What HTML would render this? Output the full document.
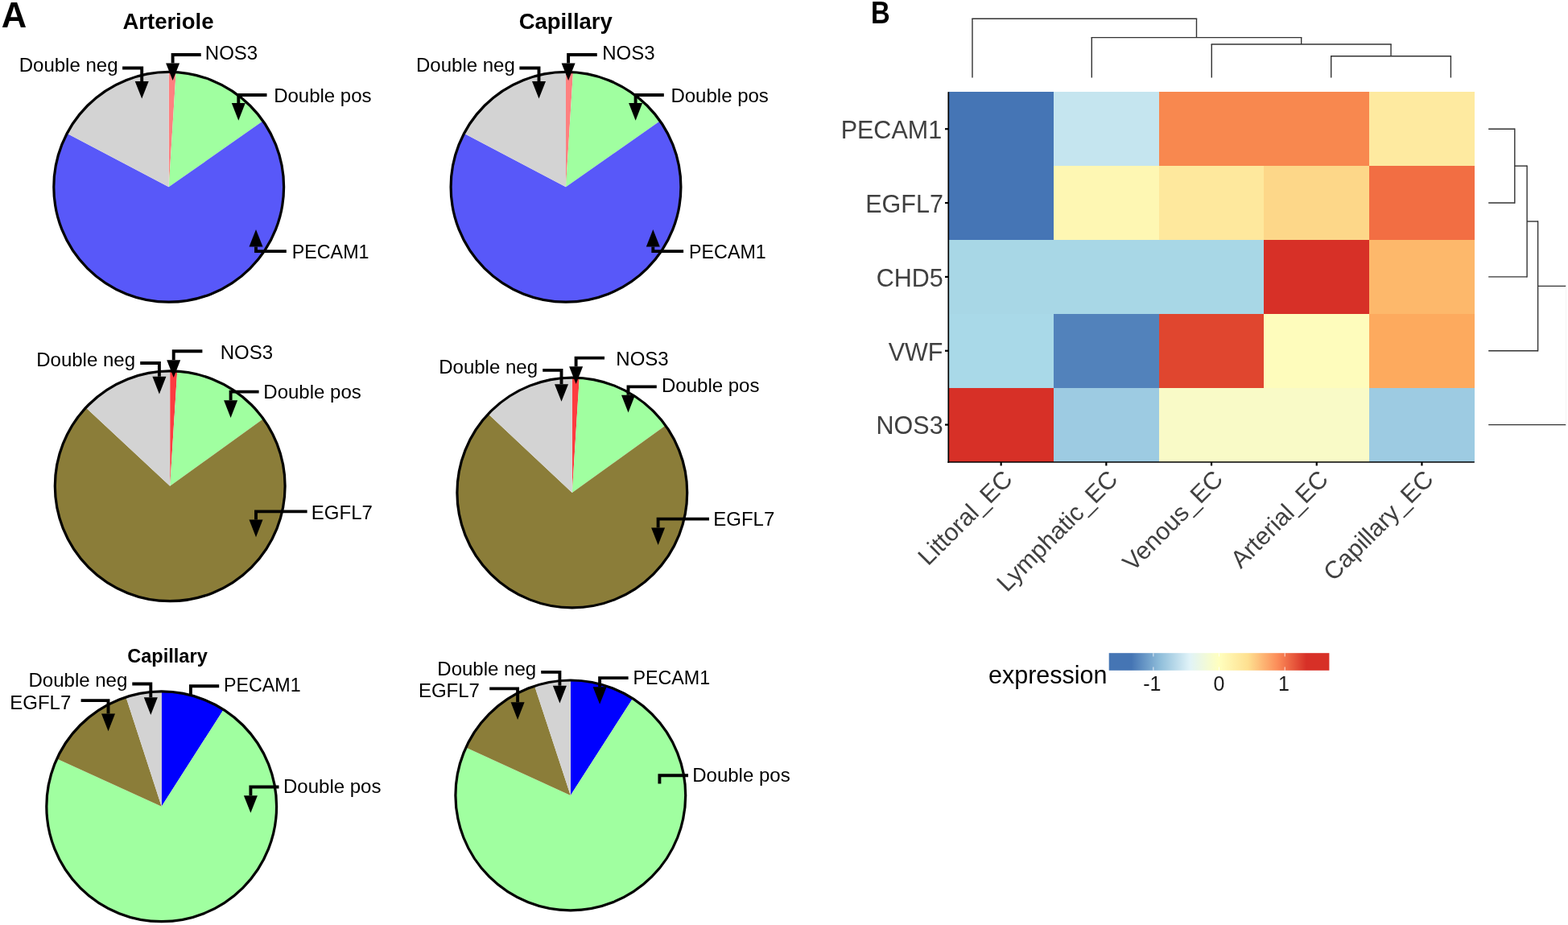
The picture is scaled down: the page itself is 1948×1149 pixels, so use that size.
<!DOCTYPE html>
<html><head><meta charset="utf-8"><style>
html,body{margin:0;padding:0;background:#fff;overflow:hidden;}
svg{display:block;}
text{font-family:'Liberation Sans', Arial, Helvetica, sans-serif;}
</style></head><body>
<svg width="1948" height="1149" viewBox="0 0 1948 1149">
<rect width="1948" height="1149" fill="#fff"/>
<path d="M209.70,232.30 L209.70,89.40 A142.90,142.90 0 0 1 218.67,89.68 Z" fill="#FF8080"/>
<path d="M209.70,232.30 L218.67,89.68 A142.90,142.90 0 0 1 326.76,150.34 Z" fill="#A0FFA0"/>
<path d="M209.70,232.30 L326.76,150.34 A142.90,142.90 0 1 1 83.29,165.65 Z" fill="#5858F9"/>
<path d="M209.70,232.30 L83.29,165.65 A142.90,142.90 0 0 1 209.70,89.40 Z" fill="#D3D3D3"/>
<circle cx="209.70" cy="232.30" r="142.90" fill="none" stroke="#000" stroke-width="3.2"/>
<polyline points="249.70,68.00 214.60,68.00 214.60,78.40" fill="none" stroke="#000" stroke-width="3.9" stroke-linejoin="miter" stroke-linecap="butt"/>
<polygon points="206.10,78.40 223.10,78.40 214.60,100.00" fill="#000"/>
<text x="254.83" y="74.00" font-size="24" fill="#000">NOS3</text>
<polyline points="152.10,84.50 176.20,84.50 176.20,100.90" fill="none" stroke="#000" stroke-width="3.9" stroke-linejoin="miter" stroke-linecap="butt"/>
<polygon points="167.70,100.90 184.70,100.90 176.20,122.50" fill="#000"/>
<text x="23.73" y="89.40" font-size="24" fill="#000">Double neg</text>
<polyline points="331.50,118.00 296.30,118.00 296.30,128.10" fill="none" stroke="#000" stroke-width="3.9" stroke-linejoin="miter" stroke-linecap="butt"/>
<polygon points="287.80,128.10 304.80,128.10 296.30,149.70" fill="#000"/>
<text x="340.13" y="127.00" font-size="24" fill="#000">Double pos</text>
<polyline points="355.80,312.10 318.00,312.10 318.00,306.60" fill="none" stroke="#000" stroke-width="3.9" stroke-linejoin="miter" stroke-linecap="butt"/>
<polygon points="309.50,306.60 326.50,306.60 318.00,285.00" fill="#000"/>
<text x="0" y="0" font-size="24" fill="#000" transform="translate(362.79,320.80) scale(0.97,1)">PECAM1</text>
<path d="M703.00,232.30 L703.00,89.40 A142.90,142.90 0 0 1 711.97,89.68 Z" fill="#FF8080"/>
<path d="M703.00,232.30 L711.97,89.68 A142.90,142.90 0 0 1 820.06,150.34 Z" fill="#A0FFA0"/>
<path d="M703.00,232.30 L820.06,150.34 A142.90,142.90 0 1 1 576.59,165.65 Z" fill="#5858F9"/>
<path d="M703.00,232.30 L576.59,165.65 A142.90,142.90 0 0 1 703.00,89.40 Z" fill="#D3D3D3"/>
<circle cx="703.00" cy="232.30" r="142.90" fill="none" stroke="#000" stroke-width="3.2"/>
<polyline points="741.74,68.00 706.10,68.00 706.10,78.40" fill="none" stroke="#000" stroke-width="3.9" stroke-linejoin="miter" stroke-linecap="butt"/>
<polygon points="697.60,78.40 714.60,78.40 706.10,100.00" fill="#000"/>
<text x="748.13" y="74.00" font-size="24" fill="#000">NOS3</text>
<polyline points="645.40,84.50 669.50,84.50 669.50,100.90" fill="none" stroke="#000" stroke-width="3.9" stroke-linejoin="miter" stroke-linecap="butt"/>
<polygon points="661.00,100.90 678.00,100.90 669.50,122.50" fill="#000"/>
<text x="517.03" y="89.40" font-size="24" fill="#000">Double neg</text>
<polyline points="824.80,118.00 789.60,118.00 789.60,128.10" fill="none" stroke="#000" stroke-width="3.9" stroke-linejoin="miter" stroke-linecap="butt"/>
<polygon points="781.10,128.10 798.10,128.10 789.60,149.70" fill="#000"/>
<text x="833.43" y="127.00" font-size="24" fill="#000">Double pos</text>
<polyline points="849.10,312.10 811.30,312.10 811.30,306.60" fill="none" stroke="#000" stroke-width="3.9" stroke-linejoin="miter" stroke-linecap="butt"/>
<polygon points="802.80,306.60 819.80,306.60 811.30,285.00" fill="#000"/>
<text x="0" y="0" font-size="24" fill="#000" transform="translate(856.09,320.80) scale(0.97,1)">PECAM1</text>
<text x="152.42" y="36.10" font-size="27.5" font-weight="bold" fill="#000">Arteriole</text>
<text x="644.67" y="36.20" font-size="27.5" font-weight="bold" fill="#000">Capillary</text>
<path d="M211.20,603.80 L211.20,460.90 A142.90,142.90 0 0 1 220.17,461.18 Z" fill="#FE3B3F"/>
<path d="M211.20,603.80 L220.17,461.18 A142.90,142.90 0 0 1 327.10,520.21 Z" fill="#A0FFA0"/>
<path d="M211.20,603.80 L327.10,520.21 A142.90,142.90 0 1 1 106.69,506.34 Z" fill="#8B7D39"/>
<path d="M211.20,603.80 L106.69,506.34 A142.90,142.90 0 0 1 211.20,460.90 Z" fill="#D3D3D3"/>
<circle cx="211.20" cy="603.80" r="142.90" fill="none" stroke="#000" stroke-width="3.2"/>
<polyline points="251.40,436.30 215.70,436.30 215.70,447.30" fill="none" stroke="#000" stroke-width="3.9" stroke-linejoin="miter" stroke-linecap="butt"/>
<polygon points="207.20,447.30 224.20,447.30 215.70,468.90" fill="#000"/>
<text x="273.63" y="445.80" font-size="24" fill="#000">NOS3</text>
<polyline points="174.20,451.00 197.90,451.00 197.90,467.80" fill="none" stroke="#000" stroke-width="3.9" stroke-linejoin="miter" stroke-linecap="butt"/>
<polygon points="189.40,467.80 206.40,467.80 197.90,489.40" fill="#000"/>
<text x="45.23" y="455.20" font-size="24" fill="#000">Double neg</text>
<polyline points="321.60,486.60 286.60,486.60 286.60,497.30" fill="none" stroke="#000" stroke-width="3.9" stroke-linejoin="miter" stroke-linecap="butt"/>
<polygon points="278.10,497.30 295.10,497.30 286.60,518.90" fill="#000"/>
<text x="327.33" y="495.30" font-size="24" fill="#000">Double pos</text>
<polyline points="381.60,635.40 318.00,635.40 318.00,645.60" fill="none" stroke="#000" stroke-width="3.9" stroke-linejoin="miter" stroke-linecap="butt"/>
<polygon points="309.50,645.60 326.50,645.60 318.00,667.20" fill="#000"/>
<text x="386.83" y="644.70" font-size="24" fill="#000">EGFL7</text>
<path d="M710.80,612.00 L710.80,469.10 A142.90,142.90 0 0 1 719.77,469.38 Z" fill="#FE3B3F"/>
<path d="M710.80,612.00 L719.77,469.38 A142.90,142.90 0 0 1 826.85,528.61 Z" fill="#A0FFA0"/>
<path d="M710.80,612.00 L826.85,528.61 A142.90,142.90 0 1 1 606.63,514.18 Z" fill="#8B7D39"/>
<path d="M710.80,612.00 L606.63,514.18 A142.90,142.90 0 0 1 710.80,469.10 Z" fill="#D3D3D3"/>
<circle cx="710.80" cy="612.00" r="142.90" fill="none" stroke="#000" stroke-width="3.2"/>
<polyline points="751.00,444.60 715.60,444.60 715.60,455.30" fill="none" stroke="#000" stroke-width="3.9" stroke-linejoin="miter" stroke-linecap="butt"/>
<polygon points="707.10,455.30 724.10,455.30 715.60,476.90" fill="#000"/>
<text x="765.33" y="454.20" font-size="24" fill="#000">NOS3</text>
<polyline points="674.20,459.90 697.50,459.90 697.50,477.20" fill="none" stroke="#000" stroke-width="3.9" stroke-linejoin="miter" stroke-linecap="butt"/>
<polygon points="689.00,477.20 706.00,477.20 697.50,498.80" fill="#000"/>
<text x="545.23" y="463.50" font-size="24" fill="#000">Double neg</text>
<polyline points="815.80,480.40 780.50,480.40 780.50,490.80" fill="none" stroke="#000" stroke-width="3.9" stroke-linejoin="miter" stroke-linecap="butt"/>
<polygon points="772.00,490.80 789.00,490.80 780.50,512.40" fill="#000"/>
<text x="822.03" y="487.40" font-size="24" fill="#000">Double pos</text>
<polyline points="881.00,644.60 817.60,644.60 817.60,655.40" fill="none" stroke="#000" stroke-width="3.9" stroke-linejoin="miter" stroke-linecap="butt"/>
<polygon points="809.10,655.40 826.10,655.40 817.60,677.00" fill="#000"/>
<text x="886.23" y="652.50" font-size="24" fill="#000">EGFL7</text>
<path d="M200.70,1001.80 L200.70,858.90 A142.90,142.90 0 0 1 277.69,881.41 Z" fill="#0000FF"/>
<path d="M200.70,1001.80 L277.69,881.41 A142.90,142.90 0 1 1 70.67,942.54 Z" fill="#A0FFA0"/>
<path d="M200.70,1001.80 L70.67,942.54 A142.90,142.90 0 0 1 156.54,865.89 Z" fill="#8B7D39"/>
<path d="M200.70,1001.80 L156.54,865.89 A142.90,142.90 0 0 1 200.70,858.90 Z" fill="#D3D3D3"/>
<circle cx="200.70" cy="1001.80" r="142.90" fill="none" stroke="#000" stroke-width="3.2"/>
<polyline points="164.30,849.50 187.30,849.50 187.30,866.30" fill="none" stroke="#000" stroke-width="3.9" stroke-linejoin="miter" stroke-linecap="butt"/>
<polygon points="178.80,866.30 195.80,866.30 187.30,887.90" fill="#000"/>
<text x="35.53" y="852.80" font-size="24" fill="#000">Double neg</text>
<polyline points="100.60,870.10 134.50,870.10 134.50,886.60" fill="none" stroke="#000" stroke-width="3.9" stroke-linejoin="miter" stroke-linecap="butt"/>
<polygon points="126.00,886.60 143.00,886.60 134.50,908.20" fill="#000"/>
<text x="12.23" y="880.50" font-size="24" fill="#000">EGFL7</text>
<polyline points="272.20,852.20 236.90,852.20 236.90,864.00" fill="none" stroke="#000" stroke-width="3.9" stroke-linejoin="miter" stroke-linecap="butt"/>
<text x="0" y="0" font-size="24" fill="#000" transform="translate(277.99,858.60) scale(0.97,1)">PECAM1</text>
<polyline points="346.50,977.50 311.40,977.50 311.40,988.20" fill="none" stroke="#000" stroke-width="3.9" stroke-linejoin="miter" stroke-linecap="butt"/>
<polygon points="302.90,988.20 319.90,988.20 311.40,1009.80" fill="#000"/>
<text x="352.03" y="985.00" font-size="24" fill="#000">Double pos</text>
<text x="158.13" y="822.90" font-size="23.6" font-weight="bold" fill="#000">Capillary</text>
<path d="M708.80,987.90 L708.80,845.00 A142.90,142.90 0 0 1 786.00,867.65 Z" fill="#0000FF"/>
<path d="M708.80,987.90 L786.00,867.65 A142.90,142.90 0 1 1 578.87,928.41 Z" fill="#A0FFA0"/>
<path d="M708.80,987.90 L578.87,928.41 A142.90,142.90 0 0 1 664.17,852.15 Z" fill="#8B7D39"/>
<path d="M708.80,987.90 L664.17,852.15 A142.90,142.90 0 0 1 708.80,845.00 Z" fill="#D3D3D3"/>
<circle cx="708.80" cy="987.90" r="142.90" fill="none" stroke="#000" stroke-width="3.2"/>
<polyline points="672.20,834.90 695.40,834.90 695.40,851.80" fill="none" stroke="#000" stroke-width="3.9" stroke-linejoin="miter" stroke-linecap="butt"/>
<polygon points="686.90,851.80 703.90,851.80 695.40,873.40" fill="#000"/>
<text x="543.33" y="839.00" font-size="24" fill="#000">Double neg</text>
<polyline points="608.20,855.40 643.10,855.40 643.10,872.30" fill="none" stroke="#000" stroke-width="3.9" stroke-linejoin="miter" stroke-linecap="butt"/>
<polygon points="634.60,872.30 651.60,872.30 643.10,893.90" fill="#000"/>
<text x="519.93" y="866.30" font-size="24" fill="#000">EGFL7</text>
<polyline points="780.60,842.10 745.10,842.10 745.10,853.20" fill="none" stroke="#000" stroke-width="3.9" stroke-linejoin="miter" stroke-linecap="butt"/>
<polygon points="736.60,853.20 753.60,853.20 745.10,874.80" fill="#000"/>
<text x="0" y="0" font-size="24" fill="#000" transform="translate(786.49,850.30) scale(0.97,1)">PECAM1</text>
<polyline points="855.00,963.20 819.40,963.20 819.40,973.50" fill="none" stroke="#000" stroke-width="3.9" stroke-linejoin="miter" stroke-linecap="butt"/>
<text x="860.23" y="971.00" font-size="24" fill="#000">Double pos</text>
<text x="1.72" y="33.90" font-size="43.5" font-weight="bold" fill="#000">A</text>
<text x="0" y="0" font-size="38.2" font-weight="bold" transform="translate(1082.1,28.9) scale(0.86,1)">B</text>
<rect x="1178" y="114" width="131" height="92" fill="#4575B5" shape-rendering="crispEdges"/>
<rect x="1309" y="114" width="131" height="92" fill="#C5E5EF" shape-rendering="crispEdges"/>
<rect x="1440" y="114" width="130" height="92" fill="#F8884F" shape-rendering="crispEdges"/>
<rect x="1570" y="114" width="131" height="92" fill="#F8884F" shape-rendering="crispEdges"/>
<rect x="1701" y="114" width="131" height="92" fill="#FEEAA0" shape-rendering="crispEdges"/>
<rect x="1178" y="206" width="131" height="92" fill="#4575B5" shape-rendering="crispEdges"/>
<rect x="1309" y="206" width="131" height="92" fill="#FEF7B3" shape-rendering="crispEdges"/>
<rect x="1440" y="206" width="130" height="92" fill="#FEE89D" shape-rendering="crispEdges"/>
<rect x="1570" y="206" width="131" height="92" fill="#FDD789" shape-rendering="crispEdges"/>
<rect x="1701" y="206" width="131" height="92" fill="#F26E43" shape-rendering="crispEdges"/>
<rect x="1178" y="298" width="131" height="92" fill="#A8D7E6" shape-rendering="crispEdges"/>
<rect x="1309" y="298" width="131" height="92" fill="#A8D7E6" shape-rendering="crispEdges"/>
<rect x="1440" y="298" width="130" height="92" fill="#A8D7E6" shape-rendering="crispEdges"/>
<rect x="1570" y="298" width="131" height="92" fill="#D73027" shape-rendering="crispEdges"/>
<rect x="1701" y="298" width="131" height="92" fill="#FDB86B" shape-rendering="crispEdges"/>
<rect x="1178" y="390" width="131" height="92" fill="#A9D9E8" shape-rendering="crispEdges"/>
<rect x="1309" y="390" width="131" height="92" fill="#5282BB" shape-rendering="crispEdges"/>
<rect x="1440" y="390" width="130" height="92" fill="#E0462F" shape-rendering="crispEdges"/>
<rect x="1570" y="390" width="131" height="92" fill="#FEFCBC" shape-rendering="crispEdges"/>
<rect x="1701" y="390" width="131" height="92" fill="#FDAA5E" shape-rendering="crispEdges"/>
<rect x="1178" y="482" width="131" height="92" fill="#D73027" shape-rendering="crispEdges"/>
<rect x="1309" y="482" width="131" height="92" fill="#9DCBE2" shape-rendering="crispEdges"/>
<rect x="1440" y="482" width="130" height="92" fill="#F9FAC7" shape-rendering="crispEdges"/>
<rect x="1570" y="482" width="131" height="92" fill="#F9FAC7" shape-rendering="crispEdges"/>
<rect x="1701" y="482" width="131" height="92" fill="#9DCBE2" shape-rendering="crispEdges"/>
<line x1="1178.30" y1="114.30" x2="1178.30" y2="574.9" stroke="#000" stroke-width="1.7"/>
<line x1="1177.45" y1="574.0" x2="1831.80" y2="574.0" stroke="#000" stroke-width="1.7"/>
<line x1="1174.00" y1="160.22" x2="1178.30" y2="160.22" stroke="#000" stroke-width="2.2"/>
<text x="1044.68" y="172.02" font-size="30.5" fill="#404040">PECAM1</text>
<line x1="1174.00" y1="252.06" x2="1178.30" y2="252.06" stroke="#000" stroke-width="2.2"/>
<text x="1075.25" y="263.86" font-size="30.5" fill="#404040">EGFL7</text>
<line x1="1174.00" y1="343.90" x2="1178.30" y2="343.90" stroke="#000" stroke-width="2.2"/>
<text x="1088.75" y="355.70" font-size="30.5" fill="#404040">CHD5</text>
<line x1="1174.00" y1="435.74" x2="1178.30" y2="435.74" stroke="#000" stroke-width="2.2"/>
<text x="1103.66" y="447.54" font-size="30.5" fill="#404040">VWF</text>
<line x1="1174.00" y1="527.58" x2="1178.30" y2="527.58" stroke="#000" stroke-width="2.2"/>
<text x="1088.59" y="539.38" font-size="30.5" fill="#404040">NOS3</text>
<line x1="1243.65" y1="574.00" x2="1243.65" y2="578.50" stroke="#000" stroke-width="2.2"/>
<text x="0" y="0" font-size="30.5" fill="#404040" text-anchor="end" transform="translate(1244.15,581.50) rotate(-45) translate(0,22.00)">Littoral_EC</text>
<line x1="1374.35" y1="574.00" x2="1374.35" y2="578.50" stroke="#000" stroke-width="2.2"/>
<text x="0" y="0" font-size="30.5" fill="#404040" text-anchor="end" transform="translate(1374.85,581.50) rotate(-45) translate(0,22.00)">Lymphatic_EC</text>
<line x1="1505.05" y1="574.00" x2="1505.05" y2="578.50" stroke="#000" stroke-width="2.2"/>
<text x="0" y="0" font-size="30.5" fill="#404040" text-anchor="end" transform="translate(1505.55,581.50) rotate(-45) translate(0,22.00)">Venous_EC</text>
<line x1="1635.75" y1="574.00" x2="1635.75" y2="578.50" stroke="#000" stroke-width="2.2"/>
<text x="0" y="0" font-size="30.5" fill="#404040" text-anchor="end" transform="translate(1636.25,581.50) rotate(-45) translate(0,22.00)">Arterial_EC</text>
<line x1="1766.45" y1="574.00" x2="1766.45" y2="578.50" stroke="#000" stroke-width="2.2"/>
<text x="0" y="0" font-size="30.5" fill="#404040" text-anchor="end" transform="translate(1766.95,581.50) rotate(-45) translate(0,22.00)">Capillary_EC</text>
<line x1="1653.70" y1="96.50" x2="1653.70" y2="69.80" stroke="#333333" stroke-width="1.4"/>
<line x1="1802.40" y1="96.50" x2="1802.40" y2="69.80" stroke="#333333" stroke-width="1.4"/>
<line x1="1653.00" y1="69.80" x2="1803.10" y2="69.80" stroke="#333333" stroke-width="1.4"/>
<line x1="1505.30" y1="96.50" x2="1505.30" y2="55.00" stroke="#333333" stroke-width="1.4"/>
<line x1="1728.05" y1="69.80" x2="1728.05" y2="55.00" stroke="#333333" stroke-width="1.4"/>
<line x1="1504.60" y1="55.00" x2="1728.75" y2="55.00" stroke="#333333" stroke-width="1.4"/>
<line x1="1356.30" y1="96.50" x2="1356.30" y2="46.60" stroke="#333333" stroke-width="1.4"/>
<line x1="1616.68" y1="55.00" x2="1616.68" y2="46.60" stroke="#333333" stroke-width="1.4"/>
<line x1="1355.60" y1="46.60" x2="1617.38" y2="46.60" stroke="#333333" stroke-width="1.4"/>
<line x1="1208.00" y1="96.50" x2="1208.00" y2="23.20" stroke="#333333" stroke-width="1.4"/>
<line x1="1486.49" y1="46.60" x2="1486.49" y2="23.20" stroke="#333333" stroke-width="1.4"/>
<line x1="1207.30" y1="23.20" x2="1487.19" y2="23.20" stroke="#333333" stroke-width="1.4"/>
<line x1="1849.20" y1="160.22" x2="1881.80" y2="160.22" stroke="#333333" stroke-width="1.4"/>
<line x1="1849.20" y1="252.06" x2="1881.80" y2="252.06" stroke="#333333" stroke-width="1.4"/>
<line x1="1881.80" y1="159.52" x2="1881.80" y2="252.76" stroke="#333333" stroke-width="1.4"/>
<line x1="1881.80" y1="206.14" x2="1897.10" y2="206.14" stroke="#333333" stroke-width="1.4"/>
<line x1="1849.20" y1="343.90" x2="1897.10" y2="343.90" stroke="#333333" stroke-width="1.4"/>
<line x1="1897.10" y1="205.44" x2="1897.10" y2="344.60" stroke="#333333" stroke-width="1.4"/>
<line x1="1897.10" y1="275.02" x2="1910.60" y2="275.02" stroke="#333333" stroke-width="1.4"/>
<line x1="1849.20" y1="435.74" x2="1910.60" y2="435.74" stroke="#333333" stroke-width="1.4"/>
<line x1="1910.60" y1="274.32" x2="1910.60" y2="436.44" stroke="#333333" stroke-width="1.4"/>
<line x1="1910.60" y1="355.38" x2="1945.50" y2="355.38" stroke="#333333" stroke-width="1.4"/>
<line x1="1849.20" y1="527.58" x2="1945.50" y2="527.58" stroke="#333333" stroke-width="1.4"/>
<line x1="1945.50" y1="355.38" x2="1945.50" y2="527.58" stroke="#F5F5F5" stroke-width="1.0"/>
<defs><linearGradient id="lg" x1="0" x2="1" y1="0" y2="0">
<stop offset="0.102" stop-color="#4575B4"/><stop offset="0.235" stop-color="#91BFDB"/><stop offset="0.366" stop-color="#E0F3F8"/>
<stop offset="0.499" stop-color="#FFFFBF"/><stop offset="0.631" stop-color="#FEE090"/><stop offset="0.764" stop-color="#FC8D59"/>
<stop offset="0.896" stop-color="#D73027"/></linearGradient></defs>
<rect x="1377.7" y="811.2" width="273.7" height="21.6" fill="url(#lg)"/>
<line x1="1432.9" y1="811.2" x2="1432.9" y2="815.5" stroke="#fff" stroke-opacity="0.8" stroke-width="1"/>
<line x1="1432.9" y1="828.5" x2="1432.9" y2="832.8" stroke="#fff" stroke-opacity="0.8" stroke-width="1"/>
<line x1="1514.5" y1="811.2" x2="1514.5" y2="815.5" stroke="#fff" stroke-opacity="0.8" stroke-width="1"/>
<line x1="1514.5" y1="828.5" x2="1514.5" y2="832.8" stroke="#fff" stroke-opacity="0.8" stroke-width="1"/>
<line x1="1596.2" y1="811.2" x2="1596.2" y2="815.5" stroke="#fff" stroke-opacity="0.8" stroke-width="1"/>
<line x1="1596.2" y1="828.5" x2="1596.2" y2="832.8" stroke="#fff" stroke-opacity="0.8" stroke-width="1"/>
<text x="1228.00" y="848.60" font-size="30.5" fill="#000">expression</text>
<text x="1420.24" y="858.20" font-size="25" fill="#1a1a1a">-1</text>
<text x="1507.60" y="858.20" font-size="25" fill="#1a1a1a">0</text>
<text x="1588.01" y="858.20" font-size="25" fill="#1a1a1a">1</text>
</svg>
</body></html>
